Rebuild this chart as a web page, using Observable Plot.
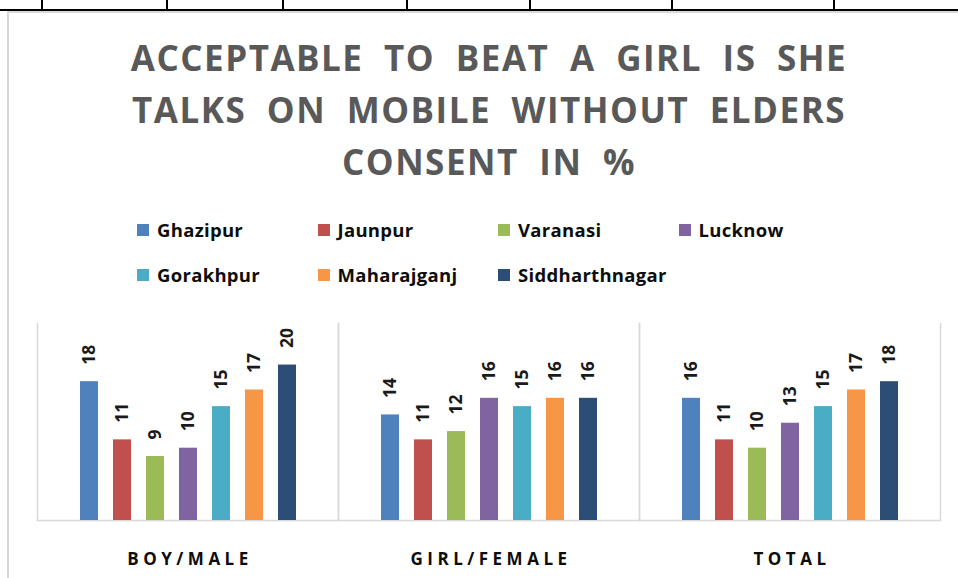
<!DOCTYPE html>
<html>
<head>
<meta charset="utf-8">
<script src="https://cdn.jsdelivr.net/npm/d3@7"></script>
<script src="https://cdn.jsdelivr.net/npm/@observablehq/plot@0.6"></script>
<style>
  html, body { margin: 0; padding: 0; background: #fff; }
  #page { position: relative; width: 958px; height: 578px; overflow: hidden; background: #fff; font-family: "Open Sans", sans-serif; }
  .tbl-h { position: absolute; left: 0; top: 8.5px; width: 958px; height: 2px; background: #000; }
  .tbl-v { position: absolute; top: 0; width: 2px; height: 9px; background: #000; }
  .frame-l { position: absolute; left: 7px; top: 10.5px; width: 2px; height: 580px; background: #d9d9d9; }
  .frame-t { position: absolute; left: 7px; top: 10.5px; width: 960px; height: 2px; background: #d9d9d9; }
  .title-line { position: absolute; left: 20px; width: 938px; text-align: center; font-weight: 700; font-size: 35px; color: #595959; letter-spacing: 1.5px; word-spacing: 10px; line-height: 52px; height: 52px; white-space: nowrap; }
  #legend { position: absolute; left: 137px; top: 207px; display: grid; grid-template-columns: repeat(4, 180.5px); grid-auto-rows: 45px; }
  .li { display: flex; align-items: center; gap: 8px; font-weight: 700; font-size: 18.5px; color: #0d0d0d; letter-spacing: 0.3px; white-space: nowrap; }
  .sw { width: 12px; height: 12px; flex: none; }
  #chart { position: absolute; left: 0; top: 300px; }
</style>
</head>
<body>
<div id="page">
  <div class="frame-l"></div>
  <div class="frame-t"></div>
  <div class="tbl-h"></div>
  <div id="title"></div>
  <div id="legend"></div>
  <div id="chart"></div>
</div>
<script>
const categories = ["BOY/MALE", "GIRL/FEMALE", "TOTAL"];
const districts = ["Ghazipur", "Jaunpur", "Varanasi", "Lucknow", "Gorakhpur", "Maharajganj", "Siddharthnagar"];
const colors = ["#4F81BD", "#C0504D", "#9BBB59", "#8064A2", "#4BACC6", "#F79646", "#2C4D75"];
const boyMale = [18, 11, 9, 10, 15, 17, 20];
const girlFemale = [14, 11, 12, 16, 15, 16, 16];
const total = [16, 11, 10, 13, 15, 17, 18];
const titleLines = ["ACCEPTABLE TO BEAT A GIRL IS SHE", "TALKS ON MOBILE WITHOUT ELDERS", "CONSENT IN %"];
const yAxisMin = 1.3;
const yAxisMax = 25;

// decorative table borders at very top
const page = document.getElementById("page");
[42, 167, 283, 407, 530, 672, 834].forEach(x => {
  const d = document.createElement("div");
  d.className = "tbl-v";
  d.style.left = (x - 1) + "px";
  page.appendChild(d);
});

// title
const title = document.getElementById("title");
titleLines.forEach((t, i) => {
  const d = document.createElement("div");
  d.className = "title-line";
  d.style.top = (32 + i * 52.2) + "px";
  d.textContent = t;
  title.appendChild(d);
});

// legend
const legend = document.getElementById("legend");
districts.forEach((name, i) => {
  const item = document.createElement("div");
  item.className = "li";
  const sw = document.createElement("span");
  sw.className = "sw";
  sw.style.background = colors[i];
  const tx = document.createElement("span");
  tx.textContent = name;
  item.appendChild(sw);
  item.appendChild(tx);
  legend.appendChild(item);
});

const seriesByCategory = [boyMale, girlFemale, total];
const data = categories.flatMap((c, i) =>
  districts.map((d, j) => ({category: c, district: d, value: seriesByCategory[i][j]}))
);

const grid = {stroke: "#d9d9d9", strokeWidth: 1.5};

const chart = Plot.plot({
  width: 958,
  height: 278,
  marginLeft: 37,
  marginRight: 18,
  marginTop: 23,
  marginBottom: 58,
  style: {fontFamily: "'Open Sans', sans-serif", background: "transparent", overflow: "visible"},
  fx: {domain: categories, padding: 0, axis: null},
  x: {domain: districts, paddingInner: 0.467, paddingOuter: 1.19, axis: null},
  y: {domain: [yAxisMin, yAxisMax], axis: null},
  color: {domain: districts, range: colors},
  marks: [
    Plot.frame({anchor: "left", ...grid}),
    Plot.frame({anchor: "right", ...grid}),
    Plot.frame({anchor: "bottom", ...grid}),
    Plot.barY(data, {fx: "category", x: "district", y1: yAxisMin, y2: "value", fill: "district"}),
    Plot.text(data, {
      fx: "category", x: "district", y: "value", text: d => String(d.value),
      rotate: -90, textAnchor: "start", lineAnchor: "middle", dy: -17,
      fontSize: 17.5, fontWeight: "bold", fill: "#1a1a1a"
    }),
    Plot.text(categories, {
      fx: d => d, text: d => d, frameAnchor: "bottom", dy: 39, dx: 2,
      lineAnchor: "middle", fontSize: 17, fontWeight: "bold", fill: "#0d0d0d"
    })
  ]
});
d3.select(chart).selectAll("text")
  .filter(function() { return categories.includes(this.textContent); })
  .style("letter-spacing", "4.5px");
document.getElementById("chart").appendChild(chart);
</script>
</body>
</html>
